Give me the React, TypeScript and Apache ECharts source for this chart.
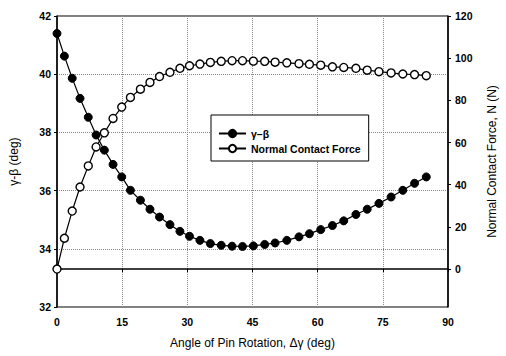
import React, { useEffect, useRef } from "react";
import * as echarts from "echarts";

// Angle of pin rotation, Δγ (deg) — shared x values of both series
const angles = [
  0, 1.7, 3.5, 5.3, 7.2, 9.0, 10.9, 12.9, 14.9, 16.9, 19.2, 21.4, 23.6, 26.0,
  28.3, 30.5, 32.9, 35.3, 37.8, 40.3, 42.7, 45.2, 47.8, 50.2, 52.9, 55.7, 58.1,
  60.7, 63.4, 66.0, 68.8, 71.4, 74.1, 76.9, 79.6, 82.3, 85.0,
];

// γ-β (deg), left axis
const gammaBeta = [
  41.4, 40.62, 39.86, 39.17, 38.52, 37.91, 37.39, 36.9, 36.47, 36.01, 35.67,
  35.36, 35.09, 34.83, 34.6, 34.43, 34.29, 34.18, 34.12, 34.09, 34.08, 34.1,
  34.15, 34.2, 34.29, 34.41, 34.52, 34.66, 34.8, 34.96, 35.18, 35.36, 35.56,
  35.78, 36.01, 36.25, 36.47,
];

// Normal contact force, N (N), right axis
const contactForce = [
  0, 14.6, 27.5, 38.9, 48.9, 57.9, 64.6, 71.4, 76.8, 81.4, 85.3, 88.5, 91.3,
  93.3, 95.2, 96.4, 97.2, 98.0, 98.5, 98.8, 98.8, 98.6, 98.5, 98.1, 97.8, 97.4,
  97.1, 96.7, 95.9, 95.6, 95.2, 94.3, 93.6, 93.0, 92.5, 92.2, 91.7,
];

const rightTicks = [0, 20, 40, 60, 80, 100, 120];

const FONT = "'Liberation Sans', Arial, sans-serif";

export default function App() {
  const ref = useRef<HTMLDivElement>(null);

  useEffect(() => {
    if (!ref.current) return;
    const chart = echarts.init(ref.current, null, { renderer: "svg" });
    const labelStyle = {
      color: "#000",
      fontFamily: FONT,
      fontSize: 10.5,
      fontWeight: "bold" as const,
    };
    const nameStyle = {
      color: "#000",
      fontFamily: FONT,
      fontSize: 12,
    };
    const dotted = { color: "#888", type: "dotted" as const, width: 1 };

    chart.setOption({
      animation: false,
      backgroundColor: "#fff",
      grid: {
        left: 54,
        right: 53,
        top: 16,
        bottom: 49,
        show: true,
        borderColor: "#000",
        borderWidth: 1,
        backgroundColor: "transparent",
      },
      legend: {
        orient: "vertical",
        left: 211,
        top: 115,
        padding: [13, 8, 7, 7],
        itemGap: 4,
        itemWidth: 27,
        itemHeight: 9,
        backgroundColor: "#fff",
        borderColor: "#000",
        borderWidth: 1,
        borderRadius: 0,
        textStyle: { ...labelStyle, fontSize: 10.5 },
        data: ["γ–β", "Normal Contact Force"],
      },
      xAxis: {
        type: "value",
        min: 0,
        max: 90,
        interval: 15,
        name: "Angle of Pin Rotation, Δγ (deg)",
        nameLocation: "middle",
        nameGap: 30,
        nameTextStyle: nameStyle,
        axisLine: { show: true, lineStyle: { color: "#000", width: 1.5 } },
        axisTick: { show: true, length: 3, lineStyle: { color: "#000" } },
        axisLabel: { ...labelStyle, margin: 9 },
        splitLine: { show: true, lineStyle: dotted },
      },
      yAxis: [
        {
          type: "value",
          min: 32,
          max: 42,
          interval: 2,
          position: "left",
          name: "γ-β (deg)",
          nameLocation: "middle",
          nameRotate: 90,
          nameGap: 37,
          nameTextStyle: nameStyle,
          axisLine: { show: true, lineStyle: { color: "#000", width: 1.5 } },
          axisTick: { show: true, length: 3, lineStyle: { color: "#000" } },
          axisLabel: { ...labelStyle, margin: 6 },
          splitLine: { show: true, lineStyle: dotted },
        },
        {
          type: "value",
          min: -18,
          max: 120,
          position: "right",
          name: "Normal Contact Force, N (N)",
          nameLocation: "middle",
          nameRotate: 90,
          nameGap: 38,
          nameTextStyle: nameStyle,
          axisLine: { show: true, lineStyle: { color: "#000", width: 1.5 } },
          axisTick: {
            show: true,
            length: 3,
            customValues: rightTicks,
            lineStyle: { color: "#000" },
          },
          axisLabel: { ...labelStyle, margin: 7, customValues: rightTicks },
          splitLine: { show: false },
        },
      ],
      series: [
        {
          name: "Normal Contact Force",
          type: "line",
          yAxisIndex: 1,
          data: angles.map((a, i) => [a, contactForce[i]]),
          symbol: "circle",
          symbolSize: 8,
          lineStyle: { color: "#000", width: 1.2 },
          itemStyle: { color: "#fff", borderColor: "#000", borderWidth: 1.4 },
        },
        {
          name: "γ–β",
          type: "line",
          yAxisIndex: 0,
          data: angles.map((a, i) => [a, gammaBeta[i]]),
          symbol: "circle",
          symbolSize: 8,
          lineStyle: { color: "#000", width: 1.2 },
          itemStyle: { color: "#000", borderColor: "#000", borderWidth: 1 },
        },
      ],
    });
    return () => chart.dispose();
  }, []);

  return (
    <div
      ref={ref}
      style={{ position: "fixed", left: 0, top: 0, width: 506, height: 356 }}
    />
  );
}
